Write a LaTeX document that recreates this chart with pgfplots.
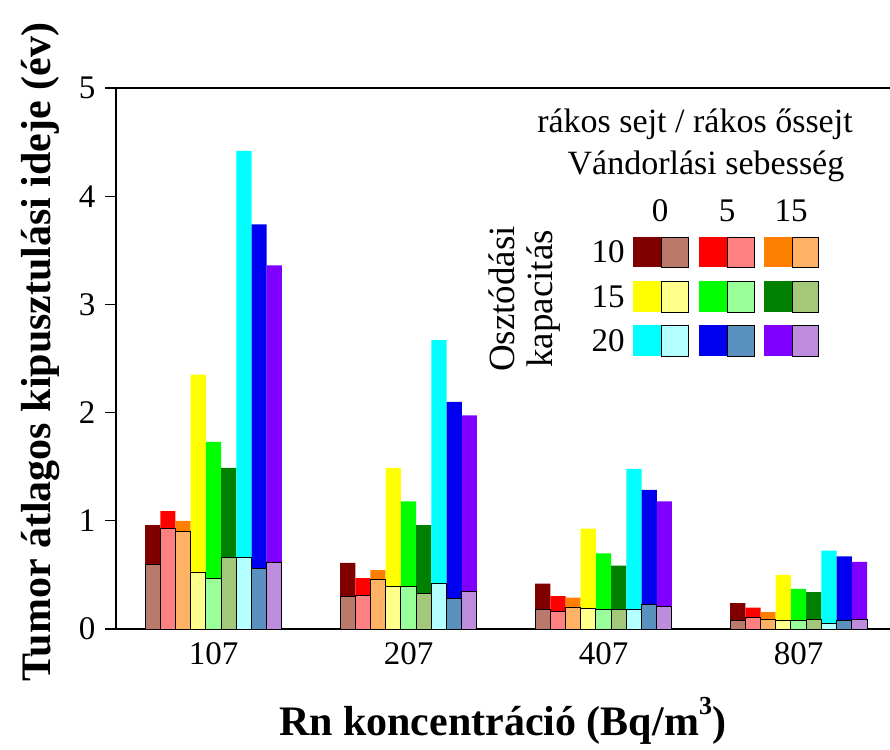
\documentclass[border=0pt]{standalone}
\usepackage{fontspec}
\setmainfont{Liberation Serif}
\usepackage{pgfplots}
\usepackage{pgfplotstable}
\pgfplotsset{compat=1.18}
\definecolor{cAd}{HTML}{800000}\definecolor{cAl}{HTML}{B97A6C}
\definecolor{cBd}{HTML}{FF0000}\definecolor{cBl}{HTML}{FF8080}
\definecolor{cCd}{HTML}{FF8000}\definecolor{cCl}{HTML}{FFB266}
\definecolor{cDd}{HTML}{FFFF00}\definecolor{cDl}{HTML}{FFFF8C}
\definecolor{cEd}{HTML}{00FF00}\definecolor{cEl}{HTML}{99FF99}
\definecolor{cFd}{HTML}{008000}\definecolor{cFl}{HTML}{A3C87A}
\definecolor{cGd}{HTML}{00FFFF}\definecolor{cGl}{HTML}{B4FFFF}
\definecolor{cHd}{HTML}{0000F0}\definecolor{cHl}{HTML}{5A91BE}
\definecolor{cId}{HTML}{8000FF}\definecolor{cIl}{HTML}{BE8CDC}
% rakos sejt (dark, full bars)
\pgfplotstableread{
g b0 b1 b2 b3 b4 b5 b6 b7 b8
0 0.96 1.09 1.00 2.35 1.73 1.49 4.42 3.74 3.36
1 0.61 0.47 0.545 1.49 1.18 0.96 2.67 2.10 1.975
2 0.42 0.305 0.29 0.927 0.70 0.585 1.48 1.285 1.18
3 0.24 0.197 0.157 0.50 0.37 0.34 0.724 0.672 0.62
}\darktab
% rakos ossejt (light, front bars)
\pgfplotstableread{
g b0 b1 b2 b3 b4 b5 b6 b7 b8
0 0.60 0.93 0.905 0.525 0.47 0.665 0.665 0.555 0.61
1 0.30 0.314 0.46 0.39 0.39 0.33 0.425 0.28 0.348
2 0.18 0.166 0.20 0.188 0.176 0.176 0.176 0.228 0.21
3 0.077 0.105 0.09 0.077 0.074 0.086 0.052 0.077 0.09
}\lighttab
\begin{document}
\begin{tikzpicture}
\path[use as bounding box] (0,0) rectangle (890pt,749pt);
\begin{axis}[
  at={(116pt,120pt)}, anchor=south west,
  scale only axis, width=774pt, height=541pt,
  xmin=-0.5, xmax=3.469, ymin=0, ymax=5,
  axis x line=box, axis y line=left,
  axis line style={-, line width=1.6pt, black},
  xtick={0,1,2,3}, xticklabels={107,207,407,807},
  xtick style={draw=none},
  ytick={0,1,2,3,4,5}, ytick align=outside, ytick pos=left,
  major tick length=11pt,
  ytick style={line width=1.2pt, black},
  tick label style={font=\fontsize{33}{33}\selectfont},
  xticklabel style={yshift=-10pt},
  yticklabel style={xshift=-6pt},
  /pgf/number format/assume math mode=true,
  xlabel={Rn koncentráció (Bq/m\raisebox{0.5em}{\fontsize{26}{26}\selectfont 3})},
  ylabel={Tumor átlagos kipusztulási ideje (év)},
  xlabel style={at={(axis description cs:0.4994,-0.196)}, anchor=base, font=\fontsize{42}{42}\selectfont\bfseries},
  ylabel style={at={(axis description cs:-0.085,0.512)}, anchor=base, font=\fontsize{42}{42}\selectfont\bfseries},
]
\addplot[ybar, bar width=0.078, bar shift=-0.312, fill=cAd, draw=none] table[x=g,y=b0]{\darktab};
\addplot[ybar, bar width=0.078, bar shift=-0.234, fill=cBd, draw=none] table[x=g,y=b1]{\darktab};
\addplot[ybar, bar width=0.078, bar shift=-0.156, fill=cCd, draw=none] table[x=g,y=b2]{\darktab};
\addplot[ybar, bar width=0.078, bar shift=-0.078, fill=cDd, draw=none] table[x=g,y=b3]{\darktab};
\addplot[ybar, bar width=0.078, bar shift=0, fill=cEd, draw=none] table[x=g,y=b4]{\darktab};
\addplot[ybar, bar width=0.078, bar shift=0.078, fill=cFd, draw=none] table[x=g,y=b5]{\darktab};
\addplot[ybar, bar width=0.078, bar shift=0.156, fill=cGd, draw=none] table[x=g,y=b6]{\darktab};
\addplot[ybar, bar width=0.078, bar shift=0.234, fill=cHd, draw=none] table[x=g,y=b7]{\darktab};
\addplot[ybar, bar width=0.078, bar shift=0.312, fill=cId, draw=none] table[x=g,y=b8]{\darktab};
\addplot[ybar, bar width=0.078, bar shift=-0.312, fill=cAl, draw=black, line width=1pt] table[x=g,y=b0]{\lighttab};
\addplot[ybar, bar width=0.078, bar shift=-0.234, fill=cBl, draw=black, line width=1pt] table[x=g,y=b1]{\lighttab};
\addplot[ybar, bar width=0.078, bar shift=-0.156, fill=cCl, draw=black, line width=1pt] table[x=g,y=b2]{\lighttab};
\addplot[ybar, bar width=0.078, bar shift=-0.078, fill=cDl, draw=black, line width=1pt] table[x=g,y=b3]{\lighttab};
\addplot[ybar, bar width=0.078, bar shift=0, fill=cEl, draw=black, line width=1pt] table[x=g,y=b4]{\lighttab};
\addplot[ybar, bar width=0.078, bar shift=0.078, fill=cFl, draw=black, line width=1pt] table[x=g,y=b5]{\lighttab};
\addplot[ybar, bar width=0.078, bar shift=0.156, fill=cGl, draw=black, line width=1pt] table[x=g,y=b6]{\lighttab};
\addplot[ybar, bar width=0.078, bar shift=0.234, fill=cHl, draw=black, line width=1pt] table[x=g,y=b7]{\lighttab};
\addplot[ybar, bar width=0.078, bar shift=0.312, fill=cIl, draw=black, line width=1pt] table[x=g,y=b8]{\lighttab};
\end{axis}
% legend
\begin{scope}[every node/.style={inner sep=0pt}]
\node[anchor=base] at (695pt,616pt) {\fontsize{34}{34}\selectfont rákos sejt / rákos őssejt};
\node[anchor=base] at (706pt,574pt) {\fontsize{34}{34}\selectfont Vándorlási sebesség};
\node[anchor=base] at (660pt,527pt) {\fontsize{33}{33}\selectfont 0};
\node[anchor=base] at (727pt,527pt) {\fontsize{33}{33}\selectfont 5};
\node[anchor=base] at (791pt,527pt) {\fontsize{33}{33}\selectfont 15};
\node[anchor=base] at (608pt,486pt) {\fontsize{33}{33}\selectfont 10};
\node[anchor=base] at (608pt,441pt) {\fontsize{33}{33}\selectfont 15};
\node[anchor=base] at (608pt,397pt) {\fontsize{33}{33}\selectfont 20};
\node[anchor=base, rotate=90] at (514pt,450pt) {\fontsize{37}{37}\selectfont Osztódási};
\node[anchor=base, rotate=90] at (552pt,450pt) {\fontsize{37}{37}\selectfont kapacitás};
\end{scope}
\begin{scope}[line width=0.9pt]
% row 10
\fill[cAd] (633pt,482pt) rectangle (661pt,512pt); \filldraw[fill=cAl,draw=black] (661pt,482pt) rectangle (688pt,512pt);
\fill[cBd] (699pt,482pt) rectangle (727pt,512pt); \filldraw[fill=cBl,draw=black] (727pt,482pt) rectangle (754pt,512pt);
\fill[cCd] (764pt,482pt) rectangle (792pt,512pt); \filldraw[fill=cCl,draw=black] (792pt,482pt) rectangle (818pt,512pt);
% row 15
\fill[cDd] (633pt,437pt) rectangle (661pt,468pt); \filldraw[fill=cDl,draw=black] (661pt,437pt) rectangle (688pt,468pt);
\fill[cEd] (699pt,437pt) rectangle (727pt,468pt); \filldraw[fill=cEl,draw=black] (727pt,437pt) rectangle (754pt,468pt);
\fill[cFd] (764pt,437pt) rectangle (792pt,468pt); \filldraw[fill=cFl,draw=black] (792pt,437pt) rectangle (818pt,468pt);
% row 20
\fill[cGd] (633pt,393pt) rectangle (661pt,424pt); \filldraw[fill=cGl,draw=black] (661pt,393pt) rectangle (688pt,424pt);
\fill[cHd] (699pt,393pt) rectangle (727pt,424pt); \filldraw[fill=cHl,draw=black] (727pt,393pt) rectangle (754pt,424pt);
\fill[cId] (764pt,393pt) rectangle (792pt,424pt); \filldraw[fill=cIl,draw=black] (792pt,393pt) rectangle (818pt,424pt);
\end{scope}
\end{tikzpicture}
\end{document}
